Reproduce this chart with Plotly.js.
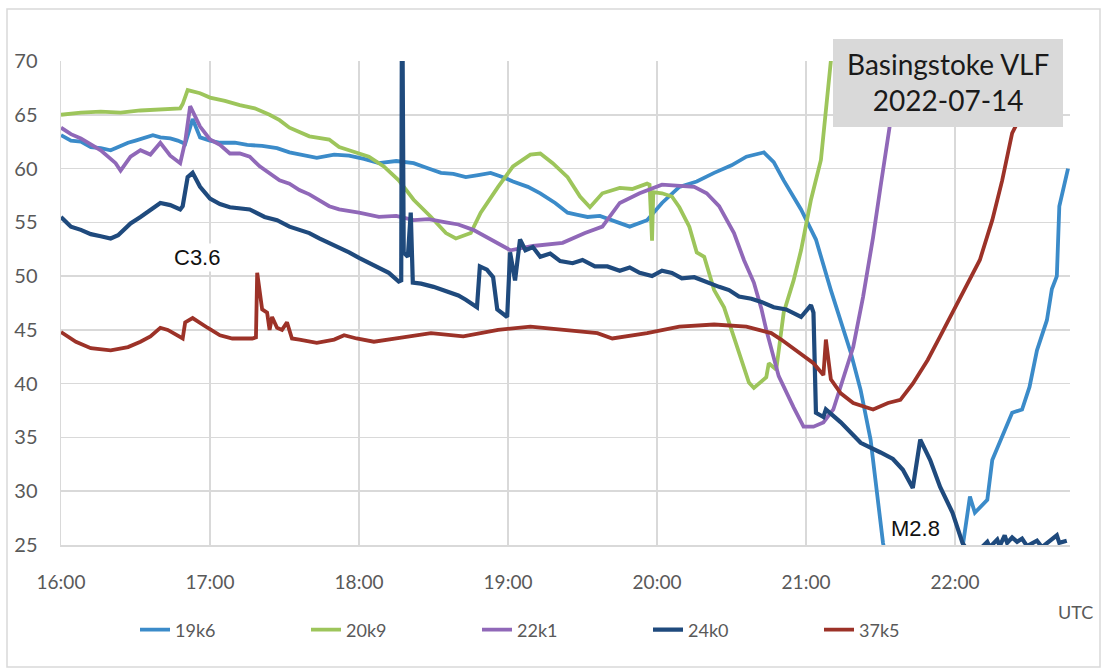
<!DOCTYPE html>
<html>
<head>
<meta charset="utf-8">
<script src="https://cdn.plot.ly/plotly-3.0.1.min.js"></script>
<style>
  html, body { margin: 0; padding: 0; background: #ffffff; }
  #chart { width: 1104px; height: 671px; }
</style>
</head>
<body>
<div id="chart"></div>
<script>
// ---- Data ----
const DAY = '2022-07-14';
const seriesNames = ['19k6', '20k9', '22k1', '24k0', '37k5'];
const seriesColors = ['#3B8BC9', '#9DC55B', '#9068B8', '#1F4A7D', '#9C3228'];

const t19k6 = ['16:00','16:04','16:08','16:12','16:16','16:20','16:24','16:27','16:30','16:33','16:37','16:40','16:44','16:47','16:50','16:53','16:56','17:00','17:04','17:10','17:15','17:21','17:27','17:32','17:36','17:43','17:50','17:56','18:02','18:08','18:15','18:22','18:28','18:33','18:38','18:43','18:48','18:53','18:58','19:02','19:08','19:13','19:19','19:24','19:28','19:32','19:37','19:42','19:49','19:56','20:02','20:09','20:16','20:23','20:30','20:36','20:43','20:47','20:51','20:58','21:04','21:10','21:18','21:22','21:26','21:31','21:40','21:55','22:03','22:06','22:08','22:13','22:15','22:19','22:23','22:27','22:30','22:33','22:37','22:39','22:41','22:42','22:44','22:45:30'];
const v19k6 = [63.1,62.6,62.5,62.0,61.9,61.7,62.1,62.4,62.6,62.8,63.1,62.9,62.8,62.6,62.3,64.6,62.9,62.6,62.4,62.4,62.2,62.1,61.9,61.5,61.3,61.0,61.3,61.2,60.9,60.5,60.7,60.5,60.0,59.6,59.5,59.2,59.4,59.6,59.2,58.8,58.3,57.7,56.8,55.9,55.7,55.5,55.6,55.2,54.6,55.2,56.8,58.3,58.8,59.6,60.3,61.1,61.5,60.6,58.9,56.2,53.4,48.7,42.9,39.4,34.8,25.2,15,12,25.0,29.5,28.0,29.2,32.9,35.0,37.3,37.6,39.7,43.1,45.9,48.8,50.0,56.5,58.5,60.0];

const t20k9 = ['16:00','16:08','16:16','16:24','16:32','16:40','16:48','16:49','16:51','16:56','17:00','17:06','17:12','17:18','17:24','17:28','17:32','17:36','17:40','17:48','17:52','17:56','18:04','18:10','18:16','18:22','18:29','18:35','18:39','18:45','18:49','18:56','19:02','19:09','19:13','19:18','19:24','19:29','19:33','19:38','19:45','19:50','19:56','19:57','19:58','19:58:30','20:02','20:06','20:09','20:13','20:16','20:19','20:23','20:27','20:32','20:37','20:39','20:44','20:45','20:48','20:51','20:55','20:58','21:02','21:06','21:08','21:10','21:14'];
const v20k9 = [65.0,65.2,65.3,65.2,65.4,65.5,65.6,66.0,67.3,67.0,66.6,66.3,65.9,65.6,65.0,64.5,63.8,63.4,63.0,62.7,62.0,61.7,61.1,60.2,58.9,57.1,55.5,54.0,53.5,54.0,55.9,58.3,60.2,61.3,61.4,60.5,59.2,57.4,56.4,57.7,58.2,58.1,58.6,58.5,53.3,57.8,57.7,57.4,56.4,54.6,52.2,51.8,48.7,47.1,43.6,40.1,39.6,40.6,41.9,41.3,46.6,49.6,52.4,57.1,60.8,65.4,70.0,76.0];

const t22k1 = ['16:00','16:04','16:08','16:12','16:16','16:22','16:24','16:28','16:32','16:36','16:40','16:44','16:48','16:50','16:52','16:56','17:00','17:04','17:08','17:12','17:16','17:20','17:24','17:28','17:32','17:36','17:40','17:44','17:48','17:52','18:00','18:08','18:15','18:22','18:28','18:35','18:40','18:46','18:53','19:01','19:10','19:22','19:31','19:38','19:45','19:53','20:02','20:08','20:15','20:20','20:25','20:31','20:35','20:39','20:42','20:44','20:49','20:55','20:59','21:03','21:07','21:11','21:15','21:19','21:23','21:27','21:30','21:33','21:36','21:39'];
const v22k1 = [63.8,63.2,62.8,62.2,61.7,60.5,59.8,61.1,61.7,61.3,62.4,61.2,60.5,62.5,65.8,63.9,62.7,62.2,61.4,61.4,61.1,60.2,59.6,58.9,58.6,58.0,57.6,57.1,56.5,56.2,55.9,55.5,55.6,55.2,55.3,55.0,54.8,54.3,53.4,52.4,52.8,53.1,54.0,54.6,56.8,57.7,58.5,58.4,58.3,57.7,56.5,54.0,51.5,49.4,47.0,45.0,40.7,37.8,36.0,36.0,36.4,37.6,40.4,43.4,48.1,53.6,58.3,62.7,67.0,72.0];

const t24k0 = ['16:00','16:04','16:08','16:12','16:16','16:20','16:23','16:28','16:32','16:36','16:40','16:44','16:48','16:49','16:51','16:53','16:56','17:00','17:04','17:08','17:12','17:16','17:22','17:27','17:32','17:36','17:40','17:44','17:48','17:52','17:56','18:00','18:04','18:08','18:12','18:16','18:17','18:17:20','18:18','18:19:40','18:20:50','18:21:40','18:25','18:30','18:34','18:37','18:40','18:43','18:47:30','18:48:40','18:51:30','18:54','18:55:40','18:59:40','19:00:50','19:02:50','19:04:50','19:07','19:10','19:13','19:17','19:21','19:26','19:30','19:35','19:40','19:45','19:49','19:53','19:58','20:02','20:06','20:10','20:15','20:20','20:25','20:29','20:33','20:38','20:42','20:47','20:52','20:58','21:02','21:03','21:04','21:07','21:08','21:14','21:22','21:30','21:35','21:39','21:43','21:46','21:50','21:54','21:59','22:03','22:05','22:10','22:13','22:14','22:17','22:18','22:20','22:21','22:23','22:25','22:27','22:29','22:33','22:35','22:41','22:42','22:45'];
const v24k0 = [55.5,54.6,54.3,53.9,53.7,53.5,53.8,54.9,55.5,56.2,56.8,56.6,56.2,56.5,59.2,59.6,58.3,57.2,56.7,56.4,56.3,56.2,55.5,55.2,54.6,54.3,54.0,53.5,53.1,52.7,52.2,51.7,51.2,50.8,50.3,49.5,49.6,80.0,52.2,51.8,55.9,49.4,49.3,49.0,48.7,48.4,48.2,47.8,47.1,50.9,50.6,49.9,46.9,46.2,52.2,49.6,53.4,52.4,52.7,51.8,52.1,51.4,51.2,51.5,50.9,50.9,50.5,50.8,50.3,50.0,50.5,50.3,49.8,49.9,49.4,49.0,48.7,48.1,47.9,47.6,47.1,46.9,46.2,47.3,46.6,37.3,36.9,37.6,36.4,34.5,33.6,33.0,32.0,30.3,34.8,32.9,30.4,28.0,25.2,24.5,24.6,25.3,24.8,25.5,24.9,25.9,25.2,25.7,25.3,25.6,24.9,25.4,24.8,25.9,25.2,25.4];

const t37k5 = ['16:00','16:06','16:12','16:20','16:27','16:32','16:36','16:40','16:43','16:47','16:49','16:50','16:53','16:59','17:04','17:09','17:17','17:18:30','17:19','17:21','17:23','17:24','17:25','17:27','17:29','17:31','17:33','17:36','17:43','17:50','17:54','17:59','18:06','18:15','18:29','18:42','18:56','19:09','19:22','19:36','19:42','19:56','20:09','20:23','20:36','20:46','20:50','20:58','21:03','21:07','21:08','21:10','21:14','21:19','21:25','21:27','21:33','21:38','21:43','21:49','21:54','21:59','22:05','22:10','22:15','22:19','22:23','22:25','22:30','22:34'];
const v37k5 = [44.8,43.9,43.3,43.1,43.4,43.9,44.4,45.2,45.0,44.4,44.2,45.7,46.1,45.2,44.5,44.2,44.2,44.3,50.3,46.9,46.6,45.0,46.2,45.2,45.0,45.7,44.2,44.1,43.8,44.1,44.5,44.2,43.9,44.2,44.7,44.4,45.0,45.3,45.0,44.7,44.2,44.7,45.3,45.5,45.3,44.7,44.1,42.8,41.9,40.8,44.1,40.4,39.1,38.2,37.8,37.6,38.2,38.5,40.0,42.2,44.4,46.6,49.3,51.5,55.2,58.9,63.3,64.2,68.0,71.0];

const hourTicks = ['16:00','17:00','18:00','19:00','20:00','21:00','22:00'];
const yTicks = [25, 30, 35, 40, 45, 50, 55, 60, 65, 70];

// ---- Build ----
function toDate(t) { return DAY + ' ' + (t.length === 5 ? t + ':00' : t); }
const allT = [t19k6, t20k9, t22k1, t24k0, t37k5];
const allV = [v19k6, v20k9, v22k1, v24k0, v37k5];
const widths = [3.8, 3.8, 3.8, 4.2, 3.8];

const traces = seriesNames.map((name, i) => ({
  type: 'scatter',
  mode: 'lines',
  name: name,
  x: allT[i].map(toDate),
  y: allV[i],
  line: { color: seriesColors[i], width: widths[i] },
  hoverinfo: 'skip'
}));

// plot area: x 61..1070, y 61..545
const L = 61, R = 1070, T = 61, B = 545;
const pw = R - L, ph = B - T;
const px = v => (v - L) / pw;
const py = v => (B - v) / ph;

const layout = {
  width: 1104, height: 671,
  margin: { l: L, r: 1104 - R, t: T, b: 671 - B, pad: 0 },
  paper_bgcolor: '#ffffff',
  plot_bgcolor: '#ffffff',
  font: { family: 'Lato, "Open Sans", sans-serif', size: 19, color: '#595959' },
  showlegend: true,
  xaxis: {
    type: 'date',
    range: [DAY + ' 16:00:00', DAY + ' 22:46:18'],
    tickvals: hourTicks.map(toDate),
    ticktext: hourTicks,
    showgrid: true, gridcolor: '#D9D9D9', gridwidth: 1.5,
    zeroline: false,
    showline: true, linecolor: '#D9D9D9', linewidth: 1.5,
    ticks: 'outside', ticklen: 20, tickcolor: 'rgba(0,0,0,0)',
    tickfont: { family: 'Lato, sans-serif', size: 19, color: '#595959' },
    fixedrange: true
  },
  yaxis: {
    range: [25, 70],
    tickvals: yTicks,
    showgrid: true, gridcolor: '#D9D9D9', gridwidth: 1.5,
    zeroline: false,
    showline: true, linecolor: '#D9D9D9', linewidth: 1.5,
    ticks: 'outside', ticklen: 18, tickcolor: 'rgba(0,0,0,0)',
    tickfont: { family: 'Lato, sans-serif', size: 20, color: '#595959' },
    fixedrange: true
  },
  legend: {
    orientation: 'h',
    x: px(135), xanchor: 'left',
    y: py(630), yanchor: 'middle',
    entrywidth: 126, entrywidthmode: 'pixels',
    font: { family: 'Lato, sans-serif', size: 18, color: '#595959' },
    bgcolor: 'rgba(0,0,0,0)',
    traceorder: 'normal'
  },
  shapes: [
    // outer chart frame
    { type: 'rect', xref: 'paper', yref: 'paper',
      x0: px(7), x1: px(1100), y0: py(667), y1: py(9),
      line: { color: '#D9D9D9', width: 1.5 }, fillcolor: 'rgba(0,0,0,0)', layer: 'below' },
    // title box
    { type: 'rect', xref: 'paper', yref: 'paper',
      x0: px(833), x1: px(1063), y0: py(127), y1: py(39),
      line: { width: 0 }, fillcolor: '#D9D9D9', layer: 'above' }
  ],
  annotations: [
    { xref: 'paper', yref: 'paper', x: px(948), y: py(82), xanchor: 'center', yanchor: 'middle',
      text: 'Basingstoke VLF<br>2022-07-14', showarrow: false, align: 'center',
      font: { family: 'Lato, sans-serif', size: 28, color: '#1a1a1a' } },
    { xref: 'paper', yref: 'paper', x: px(197), y: py(257), xanchor: 'center', yanchor: 'middle',
      text: 'C3.6', showarrow: false, bgcolor: '#ffffff',
      font: { family: '"Liberation Sans", Arial, sans-serif', size: 22, color: '#111111' } },
    { xref: 'paper', yref: 'paper', x: px(915), y: py(528), xanchor: 'center', yanchor: 'middle',
      text: 'M2.8', showarrow: false,
      font: { family: '"Liberation Sans", Arial, sans-serif', size: 22, color: '#111111' } },
    { xref: 'paper', yref: 'paper', x: px(1075), y: py(612), xanchor: 'center', yanchor: 'middle',
      text: 'UTC', showarrow: false,
      font: { family: 'Lato, sans-serif', size: 18, color: '#595959' } }
  ],
  hovermode: false
};

Plotly.newPlot('chart', traces, layout, { staticPlot: true, displayModeBar: false });
</script>
</body>
</html>
